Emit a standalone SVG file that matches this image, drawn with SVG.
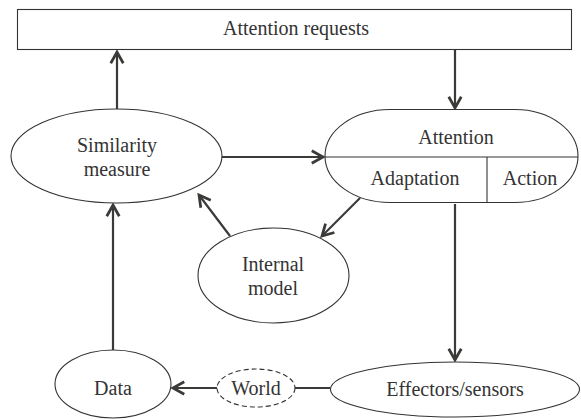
<svg xmlns="http://www.w3.org/2000/svg" width="581" height="420" viewBox="0 0 581 420">
<style>
.shape{fill:#fff;stroke:#333;stroke-width:1.1}
.conn{stroke:#3a3a38;stroke-width:2.2;fill:none}
text{font-family:"Liberation Serif","Times New Roman",serif;font-size:20px;fill:#333;text-anchor:middle}
</style>
<defs>
<marker id="arr" markerUnits="userSpaceOnUse" markerWidth="20" markerHeight="20" refX="0" refY="0" viewBox="-12 -8 14 16" orient="auto">
<path d="M-9,-5 L0,0 L-9,5" fill="none" stroke="#3a3a38" stroke-width="2.2"/>
</marker>
</defs>
<rect width="581" height="420" fill="#fff"/>
<g id="connectors">
<line class="conn" x1="117" y1="109" x2="117" y2="52" marker-end="url(#arr)"/>
<line class="conn" x1="455" y1="50" x2="455" y2="108" marker-end="url(#arr)"/>
<line class="conn" x1="222" y1="157" x2="323" y2="157" marker-end="url(#arr)"/>
<line class="conn" x1="360" y1="198" x2="322" y2="236" marker-end="url(#arr)"/>
<line class="conn" x1="230" y1="236" x2="199" y2="195" marker-end="url(#arr)"/>
<line class="conn" x1="455" y1="204" x2="455" y2="360" marker-end="url(#arr)"/>
<line class="conn" x1="113" y1="350" x2="113" y2="205" marker-end="url(#arr)"/>
<line class="conn" x1="330" y1="388" x2="294" y2="388"/>
<line class="conn" x1="217" y1="388" x2="173" y2="388" marker-end="url(#arr)"/>
</g>
<g id="attention-requests">
<rect class="shape" x="17.5" y="9.5" width="554" height="40"/>
<text x="296" y="35">Attention requests</text>
</g>
<g id="similarity">
<ellipse class="shape" cx="116.5" cy="156" rx="105.5" ry="47"/>
<text x="117" y="152">Similarity</text>
<text x="117" y="176">measure</text>
</g>
<g id="attention">
<path class="shape" d="M390,109.5 H515 A63,46.5 0 0 1 515,202.5 H390 A65,46.5 0 0 1 390,109.5 Z"/>
<line class="shape" x1="325" y1="157" x2="578" y2="157"/>
<line class="shape" x1="487" y1="157" x2="487" y2="202.5"/>
<text x="456" y="144">Attention</text>
<text x="415" y="185">Adaptation</text>
<text x="530" y="185">Action</text>
</g>
<g id="internal-model">
<ellipse class="shape" cx="273.5" cy="275.5" rx="75.5" ry="47.5"/>
<text x="273" y="271">Internal</text>
<text x="273" y="295">model</text>
</g>
<g id="data">
<ellipse class="shape" cx="113" cy="384" rx="58" ry="34"/>
<text x="113" y="395">Data</text>
</g>
<g id="world">
<ellipse class="shape" cx="256" cy="388" rx="39" ry="19" stroke-dasharray="5,3"/>
<text x="256" y="395">World</text>
</g>
<g id="effectors">
<ellipse class="shape" cx="455" cy="389.5" rx="124.5" ry="27.5"/>
<text x="455" y="396">Effectors/sensors</text>
</g>
</svg>
